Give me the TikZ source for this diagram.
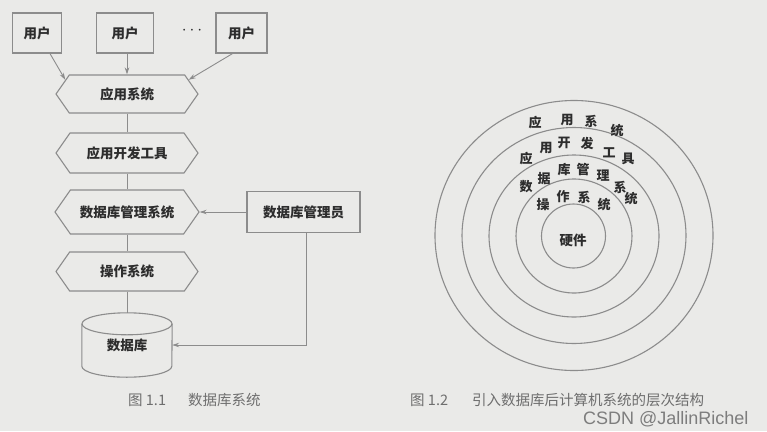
\documentclass[tikz,border=0pt]{standalone}
\usepackage{fontspec}
\setmainfont{Liberation Serif}
\newfontfamily\cjk{Noto Sans CJK SC}
\newfontfamily\wmfont{Liberation Sans}
\usetikzlibrary{shapes.symbols,arrows.meta,calc}
\definecolor{bg}{RGB}{234,234,232}
\definecolor{linec}{RGB}{140,140,140}
\definecolor{txt}{RGB}{45,45,45}
\definecolor{capc}{RGB}{110,110,110}
\definecolor{wmc}{RGB}{125,125,125}
\begin{document}
\begin{tikzpicture}[x=1pt,y=-1pt,
  conn/.style={draw=linec, line width=0.9pt},
  arr/.style={conn, -{Stealth[length=7pt,width=4.5pt]}},
  nodefont/.style={font=\cjk\bfseries\fontsize{13.5}{14}\selectfont, text=txt},
  userbox/.style={nodefont, draw=linec, line width=1.2pt, inner sep=0pt},
  hexa/.style={nodefont, signal, signal to=east and west, signal pointer angle=110, draw=linec, line width=1.1pt, inner sep=0pt},
  ringt/.style={font=\cjk\bfseries\fontsize{13}{13}\selectfont, text=txt, inner sep=0pt},
  circ/.style={draw=linec, line width=1.1pt},
  capt/.style={font=\cjk\fontsize{14.5}{15}\selectfont, text=capc, inner sep=0pt, anchor=west},
]
\fill[bg] (0,0) rectangle (767,431);
\useasboundingbox (0,0) rectangle (767,431);

% ---------- Figure 1.1 ----------
\node[userbox, minimum width=49pt, minimum height=40pt] (u1) at (37,33) {用户};
\node[userbox, minimum width=57pt, minimum height=40pt] (u2) at (125,33) {用户};
\node[text=txt, inner sep=0pt, font=\fontsize{17}{17}\selectfont] (dots) at (192,31) {$\cdots$};
\node[userbox, minimum width=51pt, minimum height=40pt] (u3) at (241.5,33) {用户};

\node[hexa, minimum width=142pt, minimum height=38pt] (h1) at (127,94) {应用系统};
\node[hexa, minimum width=142pt, minimum height=40pt] (h2) at (127,153) {应用开发工具};
\node[hexa, minimum width=144pt, minimum height=44pt] (h3) at (127,212) {数据库管理系统};
\node[hexa, minimum width=142pt, minimum height=39pt] (h4) at (127,271.5) {操作系统};

\node[userbox, minimum width=113pt, minimum height=41pt] (adm) at (303.5,212) {数据库管理员};

\node[nodefont, minimum width=90pt, minimum height=64pt, inner sep=0pt] (db) at (127,345) {\raisebox{-8pt}{数据库}};
\draw[circ] ([yshift=-11pt]db.north west) -- ([yshift=11pt]db.south west)
  arc[start angle=180, end angle=360, x radius=45pt, y radius=11pt]
  -- ([yshift=-11pt]db.north east);
\draw[circ] ([yshift=-11pt]db.north) ellipse [x radius=45pt, y radius=11pt];

\draw[arr] ([xshift=13pt]u1.south) -- (h1.167);
\draw[arr] (u2.south -| h1.north) -- (h1.north);
\draw[arr] ([xshift=-9pt]u3.south) -- (h1.13);
\draw[conn] (h1.south) -- (h2.north);
\draw[conn] (h2.south) -- (h3.north);
\draw[conn] (h3.south) -- (h4.north);
\draw[conn] (h4.south) -- (db.north);
\draw[arr] (adm.west) -- (h3.east);
\draw[arr] ([xshift=3pt]adm.south) |- (db.east);

\node[capt] (cap1) at (128,400) {图 1.1\hspace{22pt}数据库系统};

% ---------- Figure 1.2 ----------
\draw[circ] (574,235.5) ellipse [x radius=139pt, y radius=135pt];
\draw[circ] (574,235.5) ellipse [x radius=112pt, y radius=108pt];
\draw[circ] (574,236) ellipse [x radius=85pt, y radius=81pt];
\draw[circ] (574,236) ellipse [x radius=58pt, y radius=57pt];
\draw[circ] (573.5,236) ellipse [x radius=32pt, y radius=32pt];
\node[nodefont] (hw) at (573,240) {硬件};

\foreach \x/\y/\c [count=\i] in {
  535/123/应, 567/120/用, 591/121/系, 617/131/统,
  526/159/应, 546/148/用, 564/143/开, 587/144/发, 609/153/工, 628/159/具,
  526/187/数, 544/179/据, 564/170/库, 583/170/管, 603/176/理, 620/187/系, 631/199/统,
  543/205/操, 563/197/作, 584/197/系, 604/205/统}
  \node[ringt] (t\i) at (\x,\y) {\c};

\node[capt] (cap2) at (410,400) {图 1.2\hspace{24pt}引入数据库后计算机系统的层次结构};

\node[font=\wmfont\fontsize{18}{18}\selectfont, text=wmc, inner sep=0pt, anchor=west] (wm) at (583,419) {CSDN @JallinRichel};
\end{tikzpicture}
\end{document}
